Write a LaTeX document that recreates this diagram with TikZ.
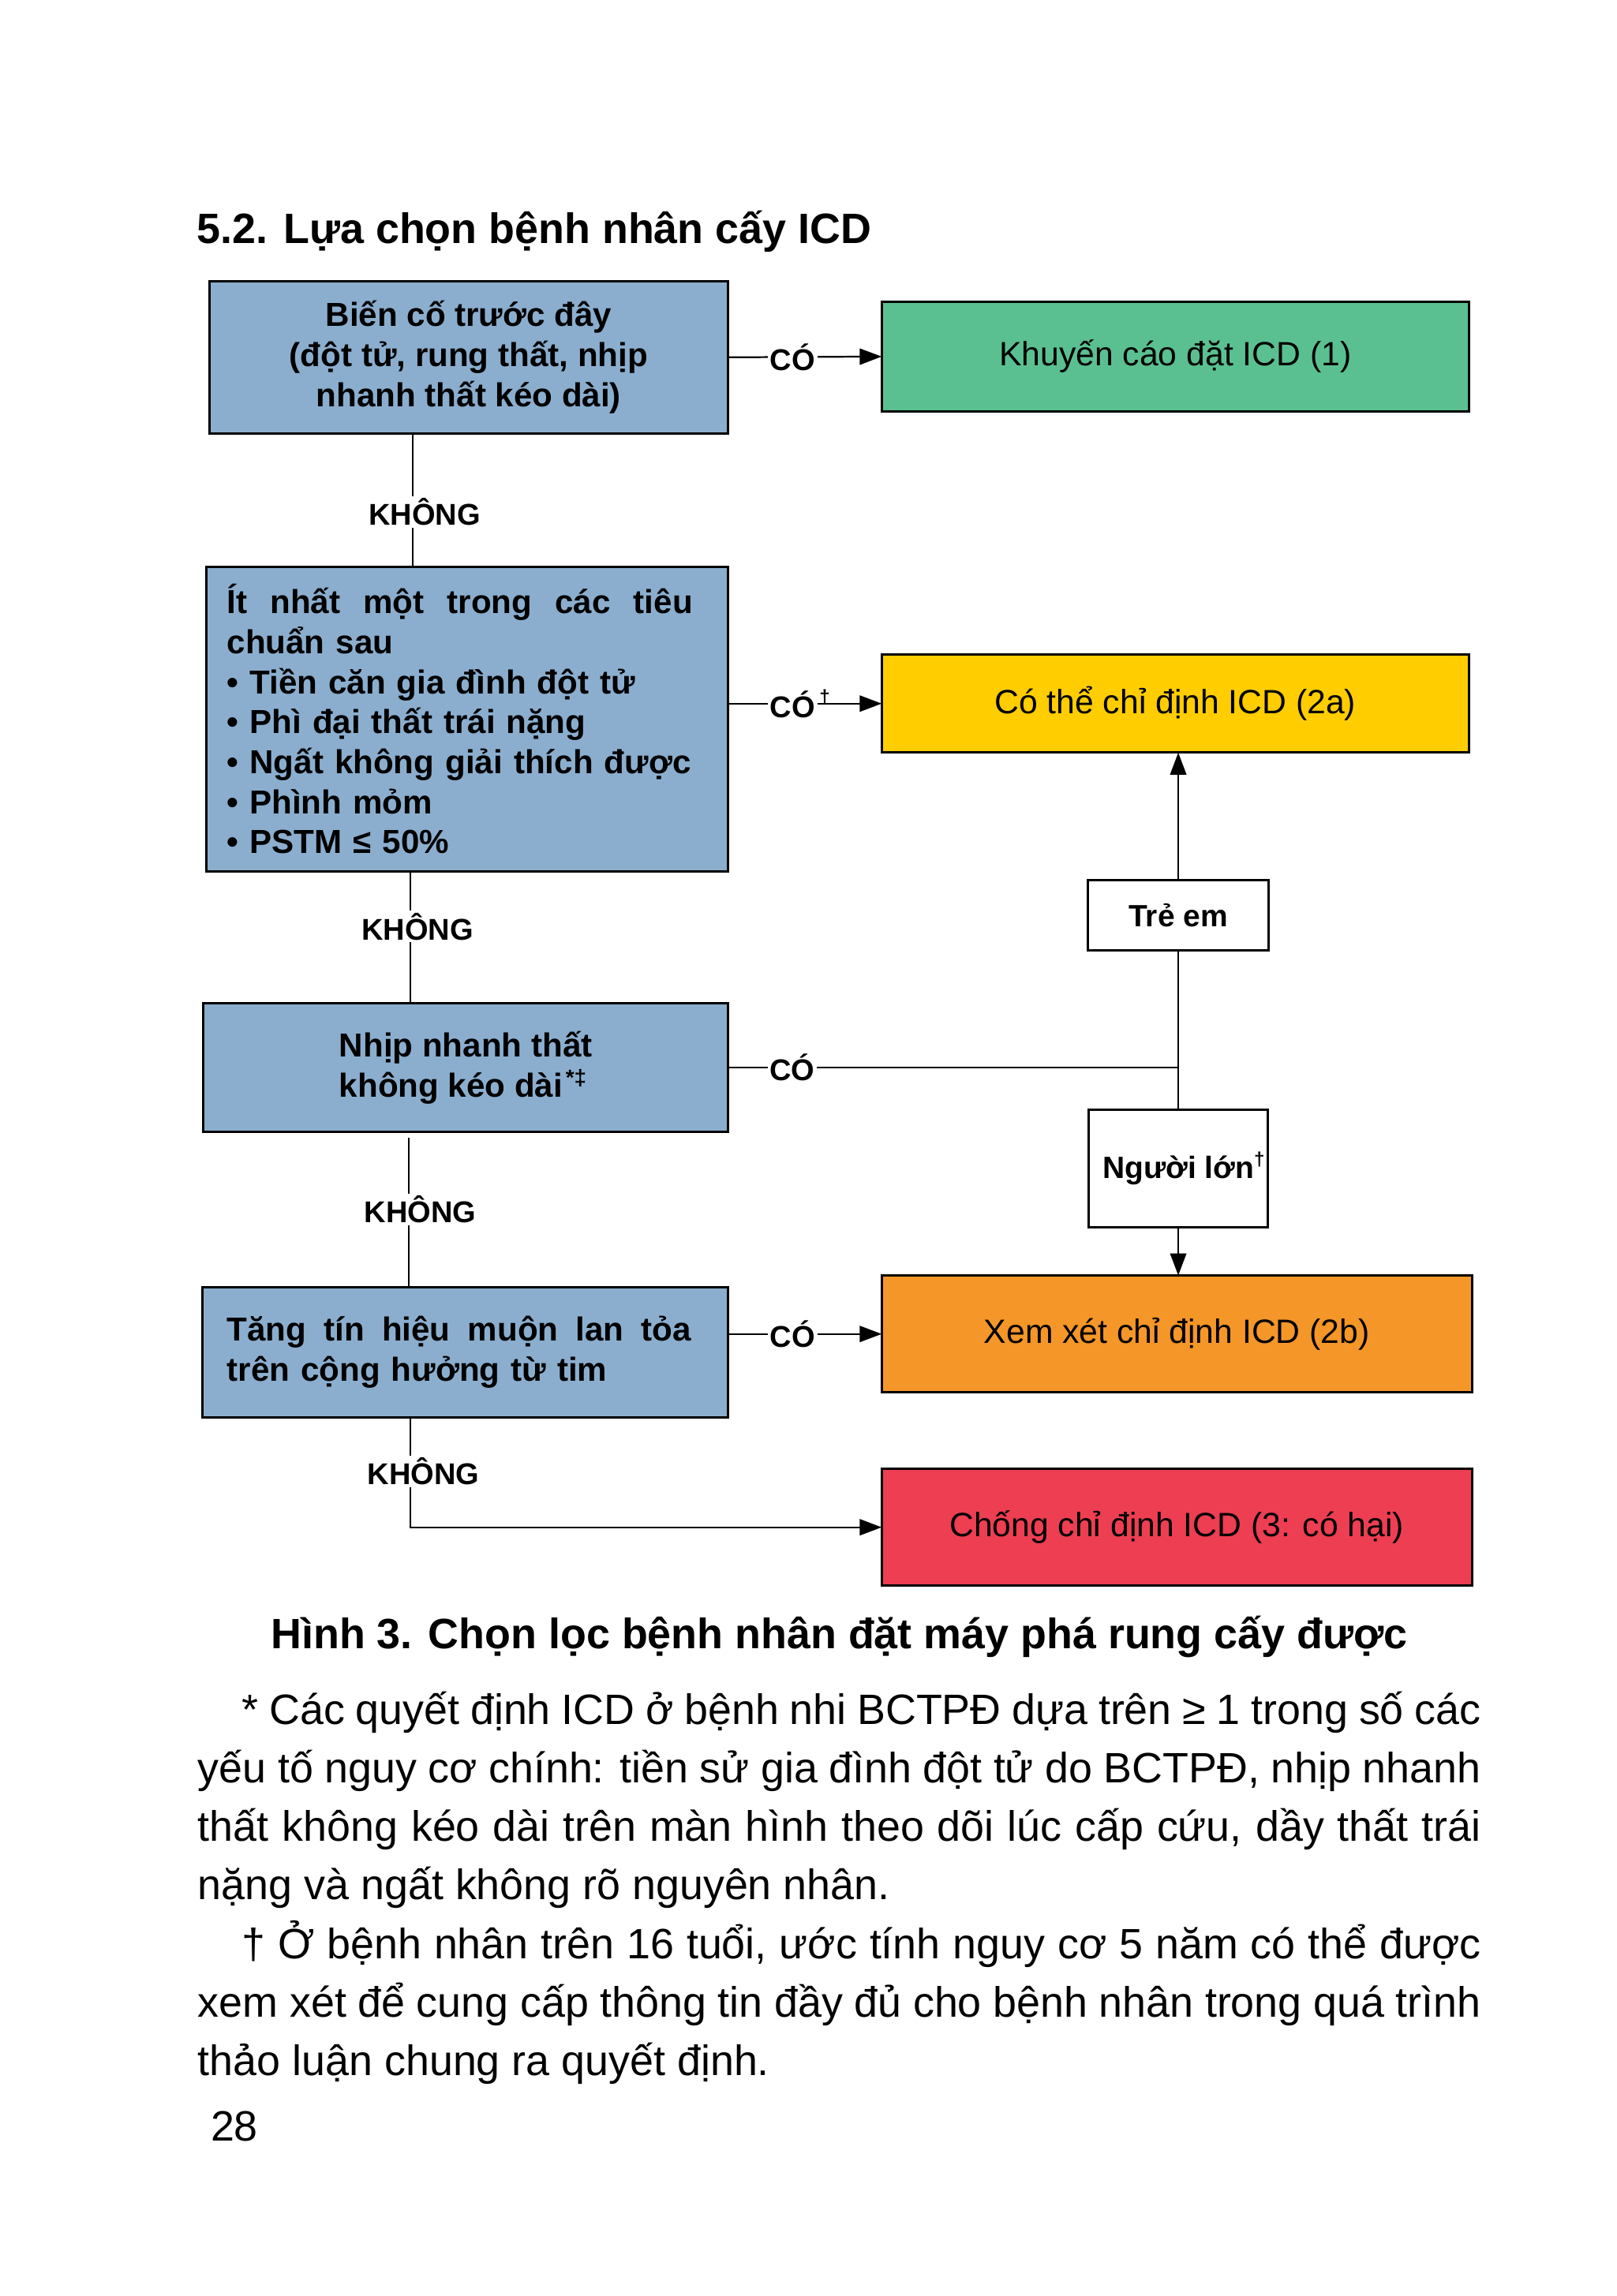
\documentclass[tikz,border=0pt]{standalone}
\usepackage{fontspec}
\setmainfont{Liberation Sans}
\usetikzlibrary{arrows.meta,calc}
\definecolor{boxblue}{RGB}{139,174,206}
\definecolor{okgreen}{RGB}{91,192,145}
\definecolor{okyellow}{RGB}{255,205,0}
\definecolor{okorange}{RGB}{245,150,40}
\definecolor{okred}{RGB}{237,62,82}
\begin{document}
\begin{tikzpicture}[x=1pt,y=-1pt,
  box/.style={draw=black, line width=1.6pt, inner sep=0pt, outer sep=0pt, font=\fontsize{22.7}{27.3}\selectfont\bfseries},
  qbox/.style={box, fill=boxblue},
  rbox/.style={draw=black, line width=1.6pt, inner sep=0pt, outer sep=0pt, font=\fontsize{23}{27}\selectfont},
  conn/.style={line width=1.2pt},
  arr/.style={conn, -{Triangle[length=15pt,width=11pt]}},
  lbl/.style={fill=white, inner sep=1.5pt, font=\fontsize{20.5}{24}\selectfont\bfseries},
]
\useasboundingbox (0,0) rectangle (1104,1568);

\node[anchor=west, font=\fontsize{29}{35}\selectfont\bfseries] (title) at (131,158) {5.2. Lựa chọn bệnh nhân cấy ICD};

% question boxes
\node[qbox, minimum width=354pt, minimum height=104pt, align=center] (b1) at (320,244)
  {Biến cố trước đây\\(đột tử, rung thất, nhịp\\nhanh thất kéo dài)};
\node[qbox, minimum width=356pt, minimum height=208pt, text width=328pt, align=left] (b2) at (319,491)
  {\hbox to 318pt{Ít\hfill nhất\hfill một\hfill trong\hfill các\hfill tiêu}\\chuẩn sau\\• Tiền căn gia đình đột tử\\• Phì đại thất trái nặng\\• Ngất không giải thích được\\• Phình mỏm\\• PSTM ≤ 50\%};
\node[qbox, minimum width=358pt, minimum height=88pt, align=left] (b3) at (318,729)
  {Nhịp nhanh thất\\không kéo dài\rlap{\hspace{2pt}\raisebox{8pt}{\fontsize{15}{15}\selectfont *‡}}};
\node[qbox, minimum width=359pt, minimum height=89pt, text width=325pt, align=left] (b4) at (317.5,923.5)
  {\hbox to 317pt{Tăng\hfill tín\hfill hiệu\hfill muộn\hfill lan\hfill tỏa}\\trên cộng hưởng từ tim};

% outcome boxes
\node[rbox, fill=okgreen, minimum width=401pt, minimum height=75pt] (g) at (802.5,243.5) {Khuyến cáo đặt ICD (1)};
\node[rbox, fill=okyellow, minimum width=401pt, minimum height=67pt] (yb) at (802.5,480.5) {Có thể chỉ định ICD (2a)};
\node[rbox, fill=okorange, minimum width=403pt, minimum height=80pt] (o) at (803.5,911) {Xem xét chỉ định ICD (2b)};
\node[rbox, fill=okred, minimum width=403pt, minimum height=80pt] (r) at (803.5,1043) {Chống chỉ định ICD (3: có hại)};

% age boxes
\node[box, fill=white, minimum width=123pt, minimum height=48pt, font=\fontsize{21}{25}\selectfont\bfseries] (tre) at (804.5,625) {Trẻ em};
\node[box, fill=white, minimum width=122pt, minimum height=80pt, font=\fontsize{21}{25}\selectfont\bfseries] (ng) at (804.5,798) {Người lớn\rlap{\raisebox{9pt}{\fontsize{13}{13}\selectfont †}}};

% connectors
\coordinate (v1) at (282,0);
\coordinate (v2) at (280,0);
\coordinate (v3) at (279,0);
\coordinate (v4) at (280,0);

\draw[arr] (b1.east) -- node[lbl, pos=0.42] {CÓ} (g.west);
\draw[arr] (yb.west -| b2.east) -- node[lbl, pos=0.42] {CÓ\rlap{\hspace{3pt}\raisebox{10pt}{\fontsize{13}{13}\selectfont †}}} (yb.west);
\draw[conn] (b3.east) -- node[lbl, pos=0.143] {CÓ} (b3.east -| tre.south);
\draw[arr] (o.west -| b4.east) -- node[lbl, pos=0.42] {CÓ} (o.west);

\draw[conn] (b1.south -| v1) -- node[lbl, pos=0.59, xshift=8pt] {KHÔNG} (b2.north -| v1);
\draw[conn] (b2.south -| v2) -- node[lbl, pos=0.42, xshift=5pt] {KHÔNG} (b3.north -| v2);
\draw[conn, shorten <=4pt] (b3.south -| v3) -- node[lbl, pos=0.5, xshift=8pt] {KHÔNG} (b4.north -| v3);
\draw[arr] (b4.south -| v4) |- node[lbl, pos=0.245, xshift=9pt] {KHÔNG} (r.west);

\draw[arr] (tre.north) -- (tre.north |- yb.south);
\draw[conn] (tre.south) -- (ng.north);
\draw[arr] (ng.south) -- (ng.south |- o.north);

% caption and text
\node[font=\fontsize{29}{35}\selectfont\bfseries] (cap) at (573,1118) {Hình 3. Chọn lọc bệnh nhân đặt máy phá rung cấy được};

\node[anchor=north west, text width=876pt, align=justify, inner sep=0pt, font=\fontsize{29}{40}\selectfont] (para) at (135,1155)
  {\hspace*{30pt}* Các quyết định ICD ở bệnh nhi BCTPĐ dựa trên ≥ 1 trong số các\linebreak
   yếu tố nguy cơ chính: tiền sử gia đình đột tử do BCTPĐ, nhịp nhanh\linebreak
   thất không kéo dài trên màn hình theo dõi lúc cấp cứu, dầy thất trái\linebreak
   nặng và ngất không rõ nguyên nhân.\\
   \hspace*{30pt}† Ở bệnh nhân trên 16 tuổi, ước tính nguy cơ 5 năm có thể được\linebreak
   xem xét để cung cấp thông tin đầy đủ cho bệnh nhân trong quá trình\linebreak
   thảo luận chung ra quyết định.};

\node[font=\fontsize{29}{35}\selectfont] (pg) at (160,1452) {28};
\end{tikzpicture}
\end{document}
